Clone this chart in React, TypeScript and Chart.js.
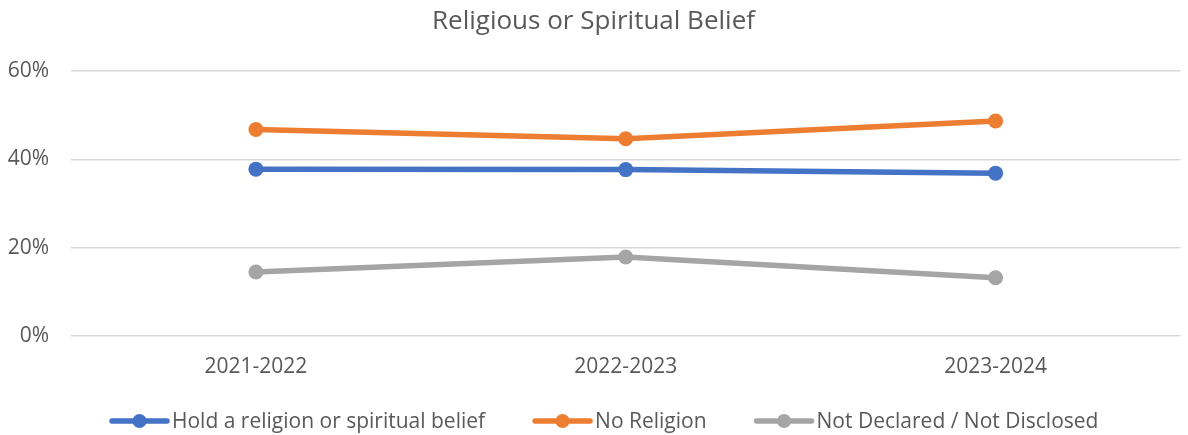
import React, { useEffect, useRef } from "react";
import { Chart, registerables } from "chart.js";

Chart.register(...registerables);

const categories = ["2021-2022", "2022-2023", "2023-2024"];
const seriesNames = [
  "Hold a religion or spiritual belief",
  "No Religion",
  "Not Declared / Not Disclosed",
];
const holdReligion = [0.378, 0.377, 0.369];
const noReligion = [0.468, 0.447, 0.487];
const notDeclared = [0.145, 0.179, 0.132];
const seriesColors = ["#4472C4", "#ED7D31", "#A5A5A5"];
const yTicks = [0, 0.2, 0.4, 0.6];

const FONT = "'Open Sans', sans-serif";
const TEXT = "#595959";

const customLegend = {
  id: "customLegend",
  afterDraw(chart: any) {
    const ctx = chart.ctx;
    ctx.save();
    ctx.font = `21px ${FONT}`;
    ctx.textBaseline = "alphabetic";
    ctx.textAlign = "left";
    const lineLen = 55;
    const gap = 5;
    const spacing = 50;
    const cy = 421;
    let x = 112;
    seriesNames.forEach((name, i) => {
      const color = seriesColors[i];
      ctx.strokeStyle = color;
      ctx.lineWidth = 5.5;
      ctx.lineCap = "round";
      ctx.beginPath();
      ctx.moveTo(x, cy);
      ctx.lineTo(x + lineLen, cy);
      ctx.stroke();
      ctx.fillStyle = color;
      ctx.beginPath();
      ctx.arc(x + lineLen / 2, cy, 7, 0, Math.PI * 2);
      ctx.fill();
      ctx.fillStyle = TEXT;
      const tx = x + lineLen + gap;
      ctx.fillText(name, tx, 428);
      x = tx + ctx.measureText(name).width + spacing;
    });
    ctx.restore();
  },
};

export default function App() {
  const ref = useRef<HTMLCanvasElement | null>(null);
  useEffect(() => {
    document.body.style.margin = "0";
    const values = [holdReligion, noReligion, notDeclared];
    const chart = new Chart(ref.current!, {
      type: "line",
      data: {
        labels: categories,
        datasets: seriesNames.map((name, i) => ({
          label: name,
          data: values[i],
          borderColor: seriesColors[i],
          backgroundColor: seriesColors[i],
          borderWidth: 5.5,
          pointRadius: 7.5,
          pointBorderWidth: 0,
          pointBackgroundColor: seriesColors[i],
          pointStyle: "circle",
          tension: 0,
          borderCapStyle: "round" as const,
        })),
      },
      options: {
        responsive: false,
        animation: false,
        layout: { padding: { left: 0, right: 1, top: 0, bottom: 53 } },
        plugins: {
          title: {
            display: true,
            text: "Religious or Spiritual Belief",
            color: TEXT,
            font: { family: FONT, size: 26, weight: "normal" },
            padding: { top: 6, bottom: 34 },
          },
          legend: { display: false },
          tooltip: { enabled: false },
        },
        scales: {
          x: {
            offset: true,
            grid: { display: false },
            border: { display: false },
            ticks: {
              color: TEXT,
              font: { family: FONT, size: 21 },
              padding: 10,
            },
            afterFit: (s: any) => {
              s.height = 46;
            },
          },
          y: {
            min: 0,
            max: 0.6,
            afterBuildTicks: (s: any) => {
              s.ticks = yTicks.map((v) => ({ value: v }));
            },
            grid: { color: "#D9D9D9", lineWidth: 1.5, drawTicks: false },
            border: { display: false },
            ticks: {
              color: TEXT,
              font: { family: FONT, size: 21 },
              padding: 22,
              callback: (v: any) => Math.round(Number(v) * 100) + "%",
            },
            afterFit: (s: any) => {
              s.width = 71;
            },
          },
        },
      },
      plugins: [customLegend],
    } as any);
    return () => chart.destroy();
  }, []);
  return (
    <div style={{ width: 1188, height: 435 }}>
      <canvas ref={ref} width={1188} height={435} />
    </div>
  );
}
